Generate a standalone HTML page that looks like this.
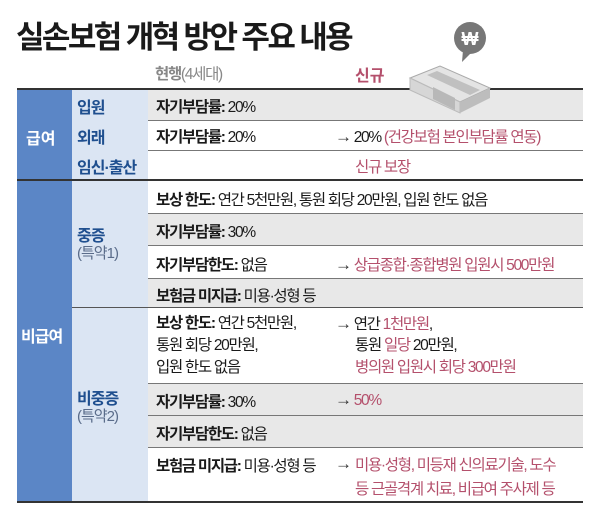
<!DOCTYPE html>
<html><head><meta charset="utf-8"><style>
body{margin:0;width:600px;height:507px;background:#fff;font-family:"Liberation Sans","Noto Sans CJK KR",sans-serif;position:relative;overflow:hidden;color:#1a1a1a}
.a{position:absolute;white-space:nowrap}
.t{font-size:31px;font-weight:bold;left:16px;top:12px;letter-spacing:-2.6px}
.r{position:absolute;left:148px;width:435px}
.g{background:#e8e8e8}
.ln{position:absolute;left:148px;width:435px;height:1px;background:#777}
.tx{font-size:15.5px;letter-spacing:-1.3px}
b{font-weight:bold}
.red{color:#b4506c}
.ar{font-weight:bold;font-size:17px;color:#333}
.lb{color:#1f4f8f;font-weight:bold;font-size:16px;letter-spacing:-1px}
.sub{color:#5a6c8a;font-size:15px;letter-spacing:-1px}
</style></head><body>
<div class="a t">실손보험 개혁 방안 주요 내용</div>
<div class="a tx" style="left:155px;top:62px;color:#888"><b style="color:#888">현행</b>(4세대)</div>
<div class="a red" style="left:355px;top:62px;font-size:16px;font-weight:bold">신규</div>
<div class="a" style="left:17px;top:88px;width:566px;height:2px;background:#333"></div>
<div class="a" style="left:17px;top:90px;width:55px;height:412px;background:#5b86c6"></div>
<div class="a" style="left:72px;top:90px;width:76px;height:412px;background:#dbe5f3"></div>
<div class="r g" style="top:90px;height:30px"></div>
<div class="r g" style="top:213px;height:32px"></div>
<div class="r g" style="top:278px;height:29px"></div>
<div class="r g" style="top:383px;height:64px"></div>
<div class="ln" style="top:120px"></div><div class="ln" style="top:150px"></div>
<div class="a" style="left:17px;top:179px;width:566px;height:2px;background:#333"></div>
<div class="ln" style="top:213px"></div><div class="ln" style="top:245px"></div><div class="ln" style="top:278px"></div>
<div class="a" style="left:72px;top:307px;width:511px;height:1px;background:#555"></div>
<div class="ln" style="top:383px"></div><div class="ln" style="top:415px"></div><div class="ln" style="top:447px"></div>
<div class="a" style="left:17px;top:501px;width:566px;height:2px;background:#333"></div>
<svg class="a" style="left:405px;top:18px" width="100" height="100">
<circle cx="65" cy="20" r="16" fill="#777"/><polygon points="58,32 67,34 57,44" fill="#777"/>
<text x="65" y="27" text-anchor="middle" fill="#fff" font-size="18" font-weight="bold" font-family="Liberation Sans">₩</text>
<polygon points="5,60 35,48 85,70 55,84" fill="#e4e4e4" stroke="#aaa"/>
<polygon points="5,60 55,84 55,95 5,72" fill="#d6d6d6" stroke="#bbb"/>
<polygon points="55,84 85,70 85,80 55,95" fill="#bdbdbd"/>
<polygon points="22,57 32,53 75,72 65,77" fill="#c0c0c0"/>
<polygon points="28,69 50,80 50,92 28,81" fill="#b8b8b8"/>
</svg>
<div class="a" style="left:26px;top:125px;color:#fff;font-weight:bold;font-size:16px">급여</div>
<div class="a" style="left:21px;top:323px;color:#fff;font-weight:bold;font-size:16px;letter-spacing:-1px">비급여</div>
<div class="a lb" style="left:77px;top:94px">입원</div>
<div class="a lb" style="left:77px;top:124px">외래</div>
<div class="a lb" style="left:77px;top:154px">임신·출산</div>
<div class="a lb" style="left:77px;top:222px">중증</div>
<div class="a sub" style="left:77px;top:242px">(특약1)</div>
<div class="a lb" style="left:77px;top:385px">비중증</div>
<div class="a sub" style="left:77px;top:405px">(특약2)</div>
<div class="a tx" style="left:156px;top:95px"><b>자기부담률:</b> 20%</div>
<div class="a tx" style="left:156px;top:125px"><b>자기부담률:</b> 20%</div>
<div class="a tx" style="left:335px;top:125px"><span class="ar">→</span> 20% <span class="red">(건강보험 본인부담률 연동)</span></div>
<div class="a tx red" style="left:355px;top:155px">신규 보장</div>
<div class="a tx" style="left:156px;top:188px"><b>보상 한도:</b> 연간 5천만원, 통원 회당 20만원, 입원 한도 없음</div>
<div class="a tx" style="left:156px;top:220px"><b>자기부담률:</b> 30%</div>
<div class="a tx" style="left:156px;top:253px"><b>자기부담한도:</b> 없음</div>
<div class="a tx" style="left:335px;top:253px"><span class="ar">→</span> <span class="red">상급종합·종합병원 입원시 500만원</span></div>
<div class="a tx" style="left:156px;top:284px"><b>보험금 미지급:</b> 미용·성형 등</div>
<div class="a tx" style="left:156px;top:313px;line-height:22px"><b>보상 한도:</b> 연간 5천만원,<br>통원 회당 20만원,<br>입원 한도 없음</div>
<div class="a tx" style="left:335px;top:313px;line-height:22px"><span class="ar">→</span> 연간 <span class="red">1천만원</span>,</div>
<div class="a tx" style="left:355px;top:335px;line-height:22px">통원 <span class="red">일당</span> 20만원,<br><span class="red">병의원 입원시 회당 300만원</span></div>
<div class="a tx" style="left:156px;top:390px"><b>자기부담률:</b> 30%</div>
<div class="a tx" style="left:335px;top:390px"><span class="ar">→</span> <span class="red">50%</span></div>
<div class="a tx" style="left:156px;top:422px"><b>자기부담한도:</b> 없음</div>
<div class="a tx" style="left:156px;top:454px"><b>보험금 미지급:</b> 미용·성형 등</div>
<div class="a tx" style="left:335px;top:454px"><span class="ar">→</span></div>
<div class="a tx red" style="left:355px;top:454px;line-height:24px">미용·성형, 미등재 신의료기술, 도수<br>등 근골격계 치료, 비급여 주사제 등</div>
</body></html>
